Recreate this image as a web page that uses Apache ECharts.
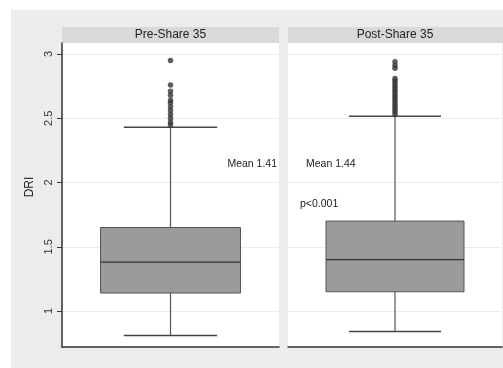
<!DOCTYPE html>
<html>
<head>
<meta charset="utf-8">
<script src="https://cdn.jsdelivr.net/npm/echarts@6/dist/echarts.min.js"></script>
<style>
  html, body { margin: 0; padding: 0; background: #fff; }
  #chart { width: 503px; height: 368px; }
</style>
</head>
<body>
<div id="chart"></div>
<script>
// Panels and their box summaries: [min whisker, Q1, median, Q3, max whisker]
const panels = ['Pre-Share 35', 'Post-Share 35'];
const preBox = [0.81, 1.14, 1.38, 1.65, 2.43];
const postBox = [0.84, 1.15, 1.40, 1.70, 2.515];
const preOutliers = [2.95, 2.76, 2.71, 2.68, 2.64, 2.62, 2.59, 2.56, 2.53, 2.50, 2.47, 2.45];
const postOutliers = [2.94, 2.91, 2.89, 2.81, 2.79, 2.77, 2.75, 2.73, 2.71, 2.69, 2.67, 2.65,
                      2.63, 2.61, 2.59, 2.57, 2.55, 2.53];
const yTicks = [1, 1.5, 2, 2.5, 3];
const yTitle = 'DRI';
const notes = ['Mean 1.41', 'Mean 1.44', 'p<0.001'];

const FONT = '"Liberation Sans", Arial, sans-serif';
const chart = echarts.init(document.getElementById('chart'), null, { renderer: 'canvas' });

const grids = [
  { left: 62, top: 43, width: 217, height: 304, show: false },
  { left: 288, top: 43, width: 214, height: 304, show: false }
];

function yAxisFor(i) {
  return {
    type: 'value', gridIndex: i, min: 0.72, max: 3.086,
    axisLine: { show: i === 0, lineStyle: { color: '#333', width: 1.5 } },
    axisTick: { show: i === 0, customValues: yTicks, length: 5, lineStyle: { color: '#333' } },
    axisLabel: { show: i === 0, customValues: yTicks, rotate: 90, margin: 8,
                 fontFamily: FONT, fontSize: 11, color: '#333' },
    splitLine: { show: true, lineStyle: { color: '#ebebeb', width: 1 } }
  };
}

function xAxisFor(i) {
  return {
    type: 'category', gridIndex: i, data: [panels[i]],
    axisLine: { show: true, onZero: false, lineStyle: { color: '#333', width: 1.5 } },
    axisTick: { show: false }, axisLabel: { show: false }, splitLine: { show: false }
  };
}

function boxRender(params, api) {
  const x = api.value(0);
  const lo = api.coord([x, api.value(1)]);
  const q1 = api.coord([x, api.value(2)]);
  const med = api.coord([x, api.value(3)]);
  const q3 = api.coord([x, api.value(4)]);
  const hi = api.coord([x, api.value(5)]);
  const band = api.size([1, 0])[0];
  const bw = band * 0.645, cw = band * 0.43;
  const cx = lo[0];
  const line = (x1, y1, x2, y2, w, c) => ({
    type: 'line', shape: { x1, y1, x2, y2 }, style: { stroke: c, lineWidth: w }
  });
  return {
    type: 'group',
    children: [
      line(cx, q3[1], cx, hi[1], 1.2, '#555'),
      line(cx, q1[1], cx, lo[1], 1.2, '#555'),
      line(cx - cw / 2, hi[1], cx + cw / 2, hi[1], 1.5, '#444'),
      line(cx - cw / 2, lo[1], cx + cw / 2, lo[1], 1.5, '#444'),
      { type: 'rect', shape: { x: cx - bw / 2, y: q3[1], width: bw, height: q1[1] - q3[1] },
        style: { fill: '#9b9b9b', stroke: '#555', lineWidth: 1 } },
      line(cx - bw / 2, med[1], cx + bw / 2, med[1], 1.3, '#333')
    ]
  };
}

const boxes = [preBox, postBox];
const outs = [preOutliers, postOutliers];
const series = [];
for (let i = 0; i < 2; i++) {
  series.push({
    type: 'custom', xAxisIndex: i, yAxisIndex: i, renderItem: boxRender,
    data: [[0].concat(boxes[i])], encode: { x: 0, y: [1, 2, 3, 4, 5] }, silent: true
  });
  series.push({
    type: 'scatter', xAxisIndex: i, yAxisIndex: i, symbol: 'circle', symbolSize: 5.5,
    itemStyle: { color: '#353535' }, silent: true,
    data: outs[i].map(v => [0, v])
  });
}

const textStyle = (t, x, y, align, size, rot) => ({
  type: 'text', x, y, z: 10, rotation: rot || 0,
  style: { text: t, fontFamily: FONT, fontSize: size, fill: '#222',
           textAlign: align, textVerticalAlign: 'middle' }
});

chart.setOption({
  animation: false,
  backgroundColor: '#fff',
  graphic: [
    { type: 'rect', z: -100, shape: { x: 11, y: 10, width: 492, height: 358 }, style: { fill: '#ececec' } },
    { type: 'rect', z: -90, shape: { x: 62, y: 27, width: 217, height: 16 }, style: { fill: '#d9d9d9' } },
    { type: 'rect', z: -90, shape: { x: 288, y: 27, width: 215, height: 16 }, style: { fill: '#d9d9d9' } },
    { type: 'rect', z: -90, shape: { x: 62, y: 43, width: 217, height: 304 }, style: { fill: '#fff' } },
    { type: 'rect', z: -90, shape: { x: 288, y: 43, width: 214, height: 304 }, style: { fill: '#fff' } },
    textStyle(panels[0], 170.5, 35, 'center', 12),
    textStyle(panels[1], 395, 35, 'center', 12),
    textStyle(yTitle, 30, 187, 'center', 12, Math.PI / 2),
    textStyle(notes[0], 277, 164, 'right', 10.5),
    textStyle(notes[1], 306, 164, 'left', 10.5),
    textStyle(notes[2], 300, 204, 'left', 10.5)
  ],
  grid: grids,
  xAxis: [xAxisFor(0), xAxisFor(1)],
  yAxis: [yAxisFor(0), yAxisFor(1)],
  series
});
</script>
</body>
</html>
